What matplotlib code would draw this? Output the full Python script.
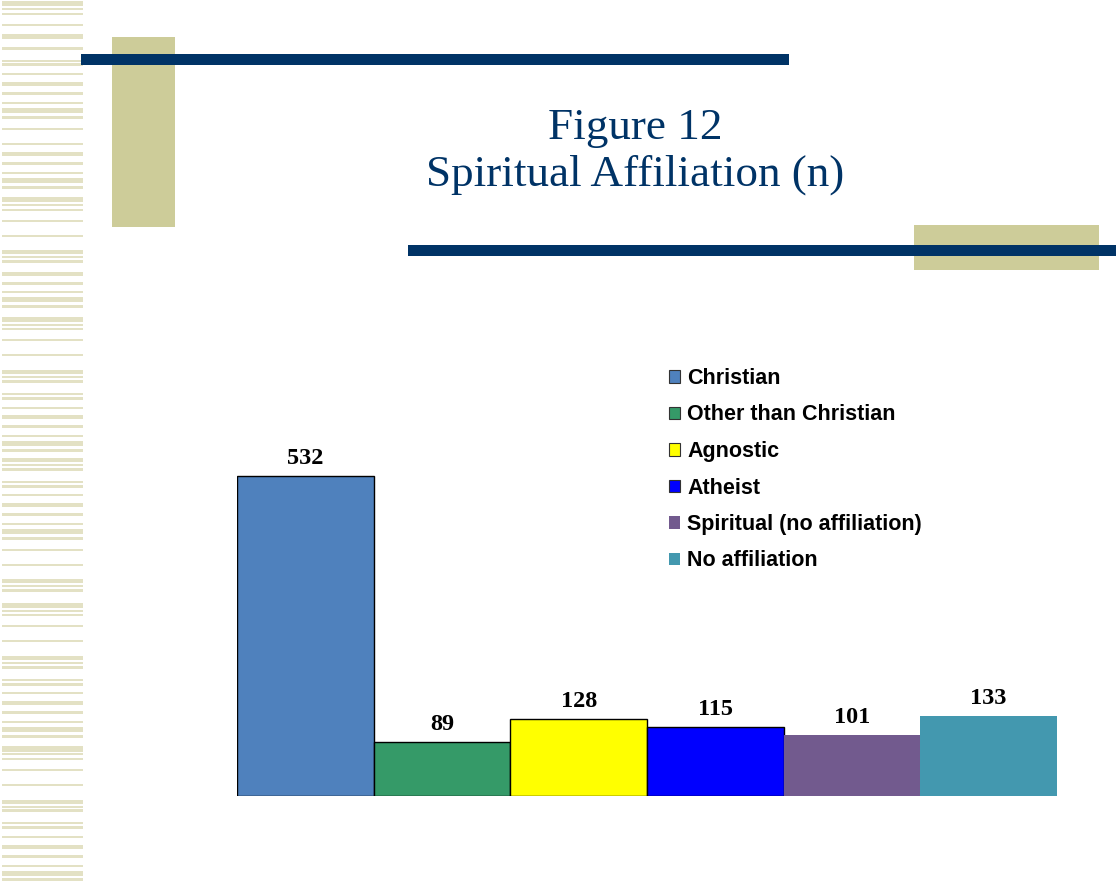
import matplotlib.pyplot as plt
from matplotlib.patches import Rectangle, Patch

# --- dados ---
categorias = ["Christian", "Other than Christian", "Agnostic", "Atheist",
              "Spiritual (no affiliation)", "No affiliation"]
valores = [532, 89, 128, 115, 101, 133]

# --- estilo ---
cores = ["#4F81BD", "#359A68", "#FFFF00", "#0000FF", "#725A8E", "#4398AF"]
bordas = ["black", "black", "black", "black", "none", "none"]
azul_escuro = "#003366"
oliva = "#CDCC99"
listra = "#E3E1C4"

# listras decorativas da faixa esquerda (topo, base) em pixels
listras = [(1, 6), (8, 10), (13, 15), (24, 26), (34, 39), (47, 50), (60, 62), (63, 66),
           (73, 75), (82, 86), (92, 95), (102, 104), (108, 113), (116, 119), (128, 130),
           (143, 145), (152, 156), (162, 165), (172, 174), (178, 183), (186, 189),
           (197, 202), (204, 206), (209, 211), (220, 222), (235, 237), (250, 254),
           (256, 258), (260, 263), (272, 276), (282, 285), (291, 293), (297, 302),
           (305, 308), (317, 322), (324, 326), (328, 330), (339, 341), (354, 356),
           (370, 374), (376, 378), (380, 383), (393, 395), (397, 400), (407, 409),
           (415, 419), (425, 428), (435, 437), (441, 446), (449, 452), (458, 462),
           (464, 466), (468, 471), (481, 483), (485, 488), (494, 496), (503, 507),
           (513, 516), (523, 525), (529, 534), (537, 540), (549, 551), (564, 566),
           (579, 583), (585, 587), (589, 592), (603, 608), (610, 612), (614, 616),
           (625, 627), (640, 642), (656, 660), (662, 664), (666, 669), (679, 681),
           (683, 686), (692, 694), (701, 705), (711, 714), (721, 723), (727, 732),
           (735, 738), (746, 752), (753, 755), (758, 760), (769, 771), (784, 786),
           (800, 804), (806, 808), (809, 812), (822, 824), (826, 829), (836, 838),
           (845, 849), (855, 858), (865, 867), (871, 876), (878, 881)]

W, H = 1116, 881
fig = plt.figure(figsize=(W / 100, H / 100), dpi=100)

# fundo decorativo em coordenadas de pixel
bg = fig.add_axes([0, 0, 1, 1])
bg.set_xlim(0, W)
bg.set_ylim(H, 0)
bg.axis("off")
for topo, base in listras:
    bg.add_patch(Rectangle((2, topo), 81, base - topo, color=listra, lw=0, antialiased=False))
bg.add_patch(Rectangle((112, 37), 63, 190, color=oliva, lw=0))
bg.add_patch(Rectangle((81, 54), 708, 11, color=azul_escuro, lw=0))
bg.add_patch(Rectangle((914, 225), 185, 45, color=oliva, lw=0))
bg.add_patch(Rectangle((408, 245), 708, 11, color=azul_escuro, lw=0))

bg.text(635, 139, "Figure 12", ha="center", va="baseline", fontsize=32.5,
        family="Liberation Serif", color=azul_escuro)
bg.text(635, 186, "Spiritual Affiliation (n)", ha="center", va="baseline", fontsize=32.5,
        family="Liberation Serif", color=azul_escuro)

# grafico de barras
esq, dir_, baixo, topo_ax = 237.3, 1056.7, 796, 300
ax = fig.add_axes([esq / W, (H - baixo) / H, (dir_ - esq) / W, (baixo - topo_ax) / H])
escala = 320.5 / 532
pos = list(range(len(valores)))
barras = ax.bar(pos, valores, width=1.0, align="edge", color=cores,
                edgecolor=bordas, linewidth=1.0)
ax.set_xlim(0, len(valores))
ax.set_ylim(0, (baixo - topo_ax) / escala)
ax.axis("off")

for p, v in zip(pos, valores):
    ax.annotate(str(v), (p + 0.5, v), xytext=(0, 8.6), textcoords="offset points",
                ha="center", va="baseline", fontsize=17.5, fontweight="bold",
                family="Liberation Serif")

alcas = [Patch(facecolor=c, edgecolor=("#333333" if b != "none" else "none"), linewidth=0.8)
         for c, b in zip(cores, bordas)]
fig.legend(alcas, categorias, loc="upper left",
           bbox_to_anchor=(669 / W, 1 - 368 / H), bbox_transform=fig.transFigure,
           frameon=False, borderpad=0, borderaxespad=0,
           handlelength=0.52, handleheight=0.52, handletextpad=0.33,
           labelspacing=0.72, prop={"family": "Liberation Sans", "weight": "bold", "size": 15.5})

fig.savefig("out.png", dpi=100)
